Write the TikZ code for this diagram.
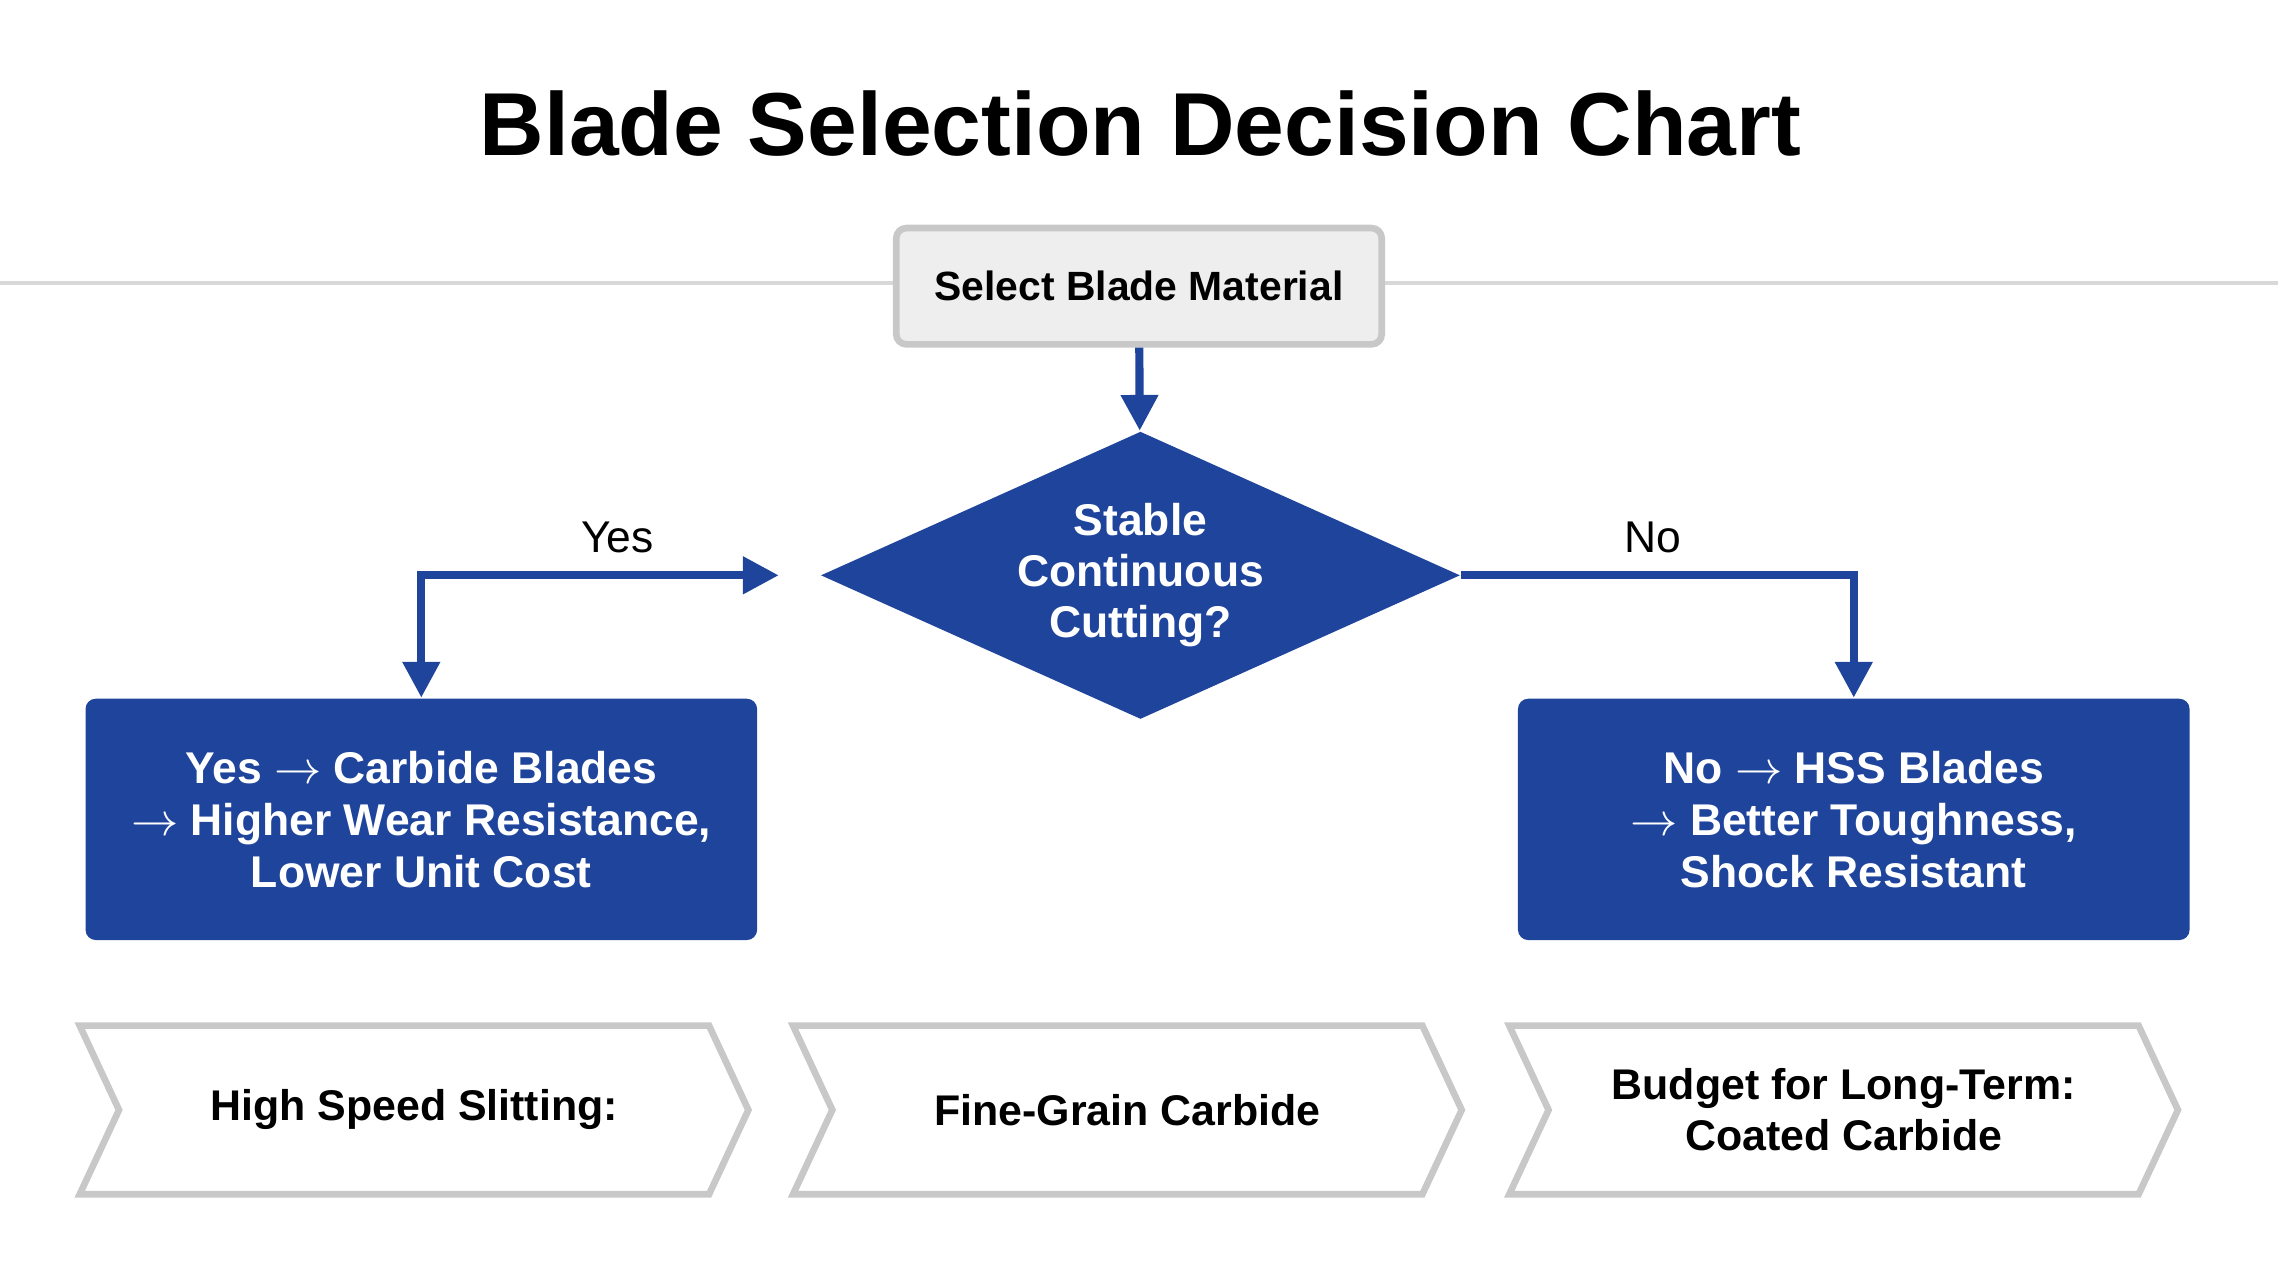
\documentclass[tikz,border=0pt]{standalone}
\usepackage{fontspec}
\setmainfont{Liberation Sans}
\usetikzlibrary{arrows.meta,shapes.geometric,shapes.symbols,positioning}
\definecolor{bladeblue}{HTML}{1F449C}
\definecolor{boxgray}{HTML}{EEEEEE}
\definecolor{linegray}{HTML}{C8C8C8}
\tikzset{
	flow/.style={draw=bladeblue, line width=1.6pt, -{Triangle[length=7pt,width=7pt]}},
	bluebox/.style={fill=bladeblue, rounded corners=2pt, minimum width=4.62cm, minimum height=1.66cm, text=white, font=\bfseries\fontsize{8.7}{10.2}\selectfont, align=center},
	chevron/.style={signal, signal to=east, signal from=west, signal pointer angle=130, draw=linegray, line width=1.3pt, fill=white, minimum width=4.6cm, minimum height=1.16cm, font=\bfseries\fontsize{8.4}{10}\selectfont, align=center}
}
\begin{document}
\begin{tikzpicture}[x=0.01cm, y=-0.01cm]
		\useasboundingbox (0,0) rectangle (1568,881);
		\draw[linegray!70, line width=0.8pt] (0,195) -- (1568,195);
		\node[font=\bfseries\fontsize{17.5}{20}\selectfont] (title) at (785,85) {Blade Selection Decision Chart};
		\node[draw=linegray, line width=1.3pt, fill=boxgray, rounded corners=2pt, minimum width=3.34cm, minimum height=0.8cm, font=\bfseries\fontsize{8}{10}\selectfont] (start) at (784,197) {Select Blade Material};
		\node[diamond, fill=bladeblue, aspect=2.22, minimum width=4.4cm, minimum height=1.98cm, inner sep=0pt, text=white, align=center, font=\bfseries\fontsize{8.7}{10}\selectfont] (dec) at (785,396) {Stable\\Continuous\\Cutting?};
		\node[bluebox] (yes) at (290,564) {Yes $\rightarrow$ Carbide Blades\\ $\rightarrow$ Higher Wear Resistance,\\Lower Unit Cost};
		\node[bluebox] (no) at (1276,564) {No $\rightarrow$ HSS Blades\\ $\rightarrow$ Better Toughness,\\Shock Resistant};
		\node[chevron] (c1) at (285,764) {High Speed Slitting:};
		\node[chevron] (c2) at (776,764) {Fine-Grain Carbide};
		\node[chevron] (c3) at (1269,764) {Budget for Long-Term:\\Coated Carbide};
		\coordinate (ycorner) at (290,396);
		\coordinate (ncorner) at (1276,396);
		% connectors
		\draw[flow] (start) -- (dec);
		\draw[flow, {Triangle[length=7pt,width=7pt]}-{Triangle[length=7pt,width=7pt]}, shorten <=8pt] (dec.west) -- (ycorner) -- (yes.north);
		\draw[flow] (dec.east) -- (ncorner) -- (no.north);
		\node[font=\fontsize{8.7}{10}\selectfont] (ylab) at (425,370) {Yes};
		\node[font=\fontsize{8.7}{10}\selectfont] (nlab) at (1138,370) {No};
\end{tikzpicture}
\end{document}
